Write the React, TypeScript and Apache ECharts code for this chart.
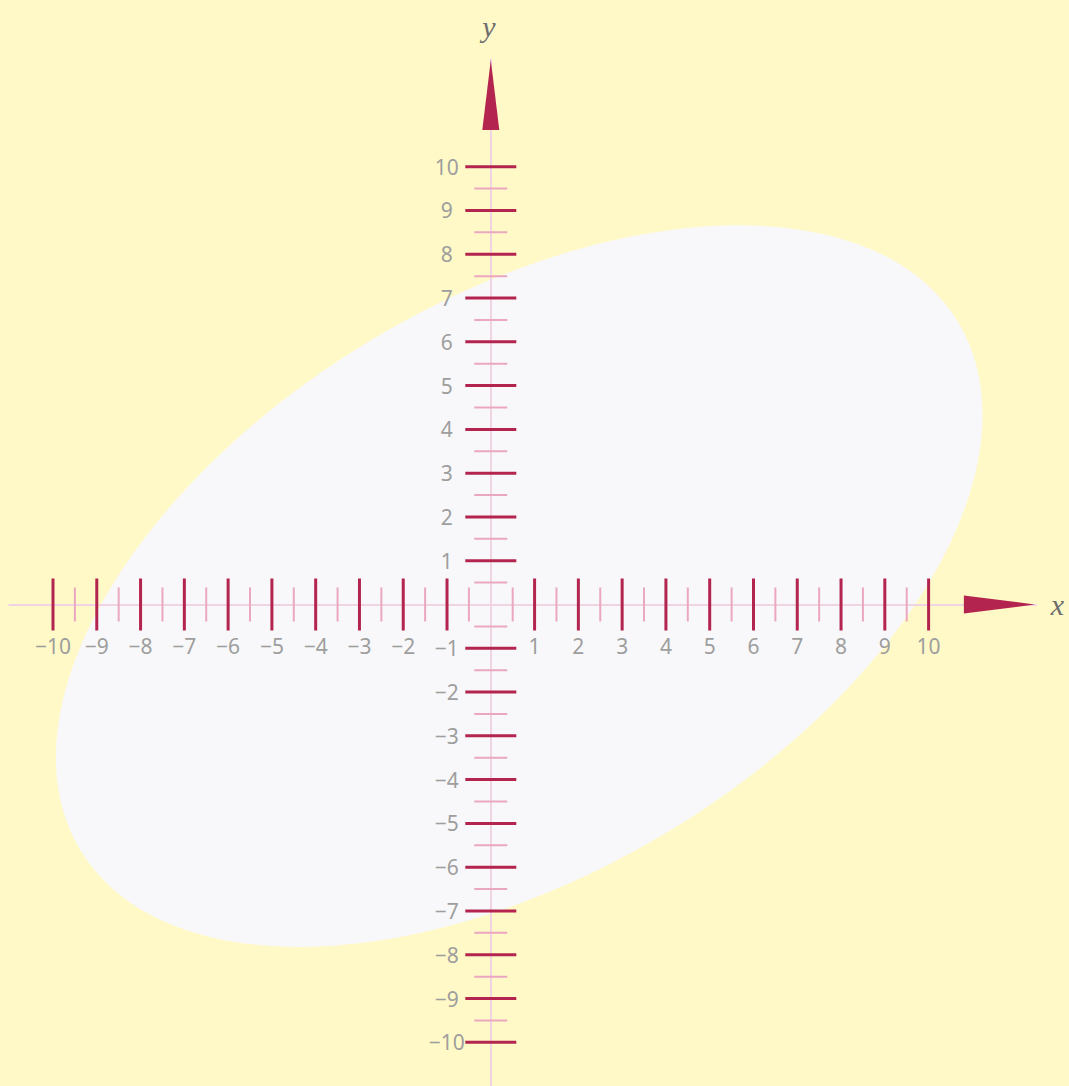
import React, { useEffect, useRef } from 'react';
import * as echarts from 'echarts';

// Axis extents (data units)
const axisMin = -11;
const axisMax = 12.45;

// Tick positions
const majorTicks = [-10, -9, -8, -7, -6, -5, -4, -3, -2, -1, 1, 2, 3, 4, 5, 6, 7, 8, 9, 10];
const minorTicks = [-9.5, -8.5, -7.5, -6.5, -5.5, -4.5, -3.5, -2.5, -1.5, -0.5, 0.5, 1.5, 2.5, 3.5, 4.5, 5.5, 6.5, 7.5, 8.5, 9.5];

// Tick labels (the x-axis "−1" coincides with the y-axis "−1", so it is shown once)
const xTickLabels = ['\u221210', '\u22129', '\u22128', '\u22127', '\u22126', '\u22125', '\u22124', '\u22123', '\u22122', '', '1', '2', '3', '4', '5', '6', '7', '8', '9', '10'];
const yTickLabels = ['\u221210', '\u22129', '\u22128', '\u22127', '\u22126', '\u22125', '\u22124', '\u22123', '\u22122', '\u22121', '1', '2', '3', '4', '5', '6', '7', '8', '9', '10'];

// Ellipse: centerX, centerY, semi-major, semi-minor, rotation (degrees)
const ellipseData = [[0.65, 0.42, 11.7, 6.56, 31]];

const BG = '#FFF9C7';
const ELLIPSE = '#F8F8FA';
const AXIS_LINE = '#F1D4E3';
const MAJOR = '#B3244F';
const MINOR = '#EBA7BF';
const LABEL = '#9E9E9E';
const NAME = '#6E6E6E';

const tickRender = (onX: boolean, half: number, width: number, color: string) =>
  (params: any, api: any) => {
    const p = api.coord([api.value(0), api.value(1)]);
    const shape = onX
      ? { x1: p[0], y1: p[1] - half, x2: p[0], y2: p[1] + half }
      : { x1: p[0] - half, y1: p[1], x2: p[0] + half, y2: p[1] };
    return { type: 'line', shape, style: { stroke: color, lineWidth: width } };
  };

const labelRender = (onX: boolean, labels: string[], offset: number) =>
  (params: any, api: any) => {
    const p = api.coord([api.value(0), api.value(1)]);
    return {
      type: 'text',
      x: onX ? p[0] : p[0] - offset,
      y: onX ? p[1] + offset : p[1],
      style: {
        text: labels[params.dataIndex],
        fill: LABEL,
        fontFamily: 'Noto Sans',
        fontSize: 21,
        align: 'center',
        verticalAlign: 'middle',
      },
    };
  };

export default function App() {
  const ref = useRef<HTMLDivElement>(null);
  useEffect(() => {
    const chart = echarts.init(ref.current!, null, { renderer: 'svg' });
    const scale = 43.78;
    const originX = 490.8;
    const originY = 604.5;
    const left = originX + axisMin * scale;
    const top = originY - axisMax * scale;
    const size = (axisMax - axisMin) * scale;

    chart.setOption({
      animation: false,
      backgroundColor: BG,
      grid: { left, top, width: size, height: size, containLabel: false, outerBoundsMode: 'none' },
      xAxis: {
        type: 'value',
        min: axisMin,
        max: axisMax,
        interval: 1,
        z: 3,
        name: 'x',
        nameLocation: 'end',
        nameGap: 15,
        nameTextStyle: {
          color: NAME,
          fontFamily: 'Liberation Serif',
          fontStyle: 'italic',
          fontSize: 30,
          align: 'left',
          verticalAlign: 'middle',
          padding: [0, 0, 4, 0],
        },
        axisLine: { show: true, onZero: true, lineStyle: { color: AXIS_LINE, width: 2 } },
        axisTick: { show: false },
        splitLine: { show: false },
        axisLabel: { show: false },
      },
      yAxis: {
        type: 'value',
        min: axisMin,
        max: axisMax,
        interval: 1,
        z: 3,
        name: 'y',
        nameLocation: 'end',
        nameGap: 18,
        nameTextStyle: {
          color: NAME,
          fontFamily: 'Liberation Serif',
          fontStyle: 'italic',
          fontSize: 30,
          align: 'center',
          padding: [0, 4, 0, 0],
        },
        axisLine: { show: true, onZero: true, lineStyle: { color: AXIS_LINE, width: 2 } },
        axisTick: { show: false },
        splitLine: { show: false },
        axisLabel: { show: false },
      },
      series: [
        {
          type: 'custom',
          coordinateSystem: 'cartesian2d',
          z: 1,
          silent: true,
          data: ellipseData,
          renderItem: (params: any, api: any) => {
            const c = api.coord([api.value(0), api.value(1)]);
            const s = api.size([api.value(2), api.value(3)]);
            return {
              type: 'ellipse',
              x: c[0],
              y: c[1],
              rotation: (api.value(4) * Math.PI) / 180,
              shape: { cx: 0, cy: 0, rx: s[0], ry: s[1] },
              style: { fill: ELLIPSE },
            };
          },
        },
        {
          type: 'custom',
          coordinateSystem: 'cartesian2d',
          z: 5,
          silent: true,
          data: minorTicks.map((v) => [v, 0]),
          renderItem: tickRender(true, 17, 2, MINOR),
        },
        {
          type: 'custom',
          coordinateSystem: 'cartesian2d',
          z: 5,
          silent: true,
          data: minorTicks.map((v) => [0, v]),
          renderItem: tickRender(false, 16.5, 2, MINOR),
        },
        {
          type: 'custom',
          coordinateSystem: 'cartesian2d',
          z: 6,
          silent: true,
          data: majorTicks.map((v) => [v, 0]),
          renderItem: tickRender(true, 26, 3, MAJOR),
        },
        {
          type: 'custom',
          coordinateSystem: 'cartesian2d',
          z: 6,
          silent: true,
          data: majorTicks.map((v) => [0, v]),
          renderItem: tickRender(false, 25.5, 3, MAJOR),
        },
        {
          type: 'custom',
          coordinateSystem: 'cartesian2d',
          z: 6,
          silent: true,
          data: majorTicks.map((v) => [v, 0]),
          renderItem: labelRender(true, xTickLabels, 41),
        },
        {
          type: 'custom',
          coordinateSystem: 'cartesian2d',
          z: 6,
          silent: true,
          data: majorTicks.map((v) => [0, v]),
          renderItem: labelRender(false, yTickLabels, 44),
        },
        {
          type: 'custom',
          coordinateSystem: 'cartesian2d',
          z: 7,
          silent: true,
          data: [[axisMax, 0]],
          renderItem: (params: any, api: any) => {
            const p = api.coord([api.value(0), api.value(1)]);
            const tx = p[0] - 1;
            return {
              type: 'polygon',
              shape: { points: [[tx, p[1]], [tx - 71, p[1] - 9], [tx - 71, p[1] + 9]] },
              style: { fill: MAJOR },
            };
          },
        },
        {
          type: 'custom',
          coordinateSystem: 'cartesian2d',
          z: 7,
          silent: true,
          data: [[0, axisMax]],
          renderItem: (params: any, api: any) => {
            const p = api.coord([api.value(0), api.value(1)]);
            const ty = p[1] + 0.5;
            return {
              type: 'polygon',
              shape: { points: [[p[0], ty], [p[0] - 8.5, ty + 70], [p[0] + 8.5, ty + 70]] },
              style: { fill: MAJOR },
            };
          },
        },
      ],
    });
    return () => chart.dispose();
  }, []);
  return (
    <div
      ref={ref}
      style={{ position: 'fixed', left: 0, top: 0, width: 1069, height: 1086 }}
    />
  );
}
